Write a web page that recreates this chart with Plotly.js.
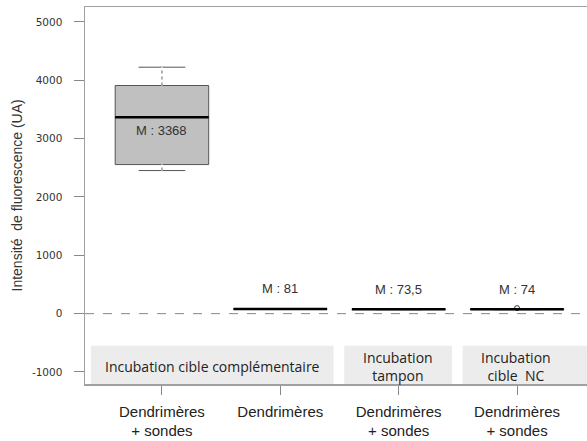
<!DOCTYPE html>
<html><head><meta charset="utf-8">
<script src="https://cdn.plot.ly/plotly-3.0.1.min.js"></script>
<style>html,body{margin:0;padding:0;overflow:hidden;background:#fff;width:587px;height:441px}</style>
</head><body><div id="chart"></div>
<script>
// ---- data ----
const categories = ['Dendrimères<br>+ sondes', 'Dendrimères', 'Dendrimères<br>+ sondes', 'Dendrimères<br>+ sondes'];
const positions = [0, 1, 2, 3];
const medians = [3368, 81, 73.5, 74];
const q1 = [2556, 77, 70, 70];
const q3 = [3911, 85, 77, 78];
const lowerWhisker = [2453, 74, 67, 67];
const upperWhisker = [4225, 88, 80, 80];
const medianLabels = ['M : 3368', 'M : 81', 'M : 73,5', 'M : 74'];
const outlierX = [3];
const outlierY = [95];
const groupLabels = ['Incubation cible complémentaire', 'Incubation<br>tampon', 'Incubation<br>cible  NC'];
const groupFrom = [0, 2, 3];
const groupTo = [1, 2, 3];
const yTicks = [-1000, 0, 1000, 2000, 3000, 4000, 5000];
const yTickText = ['-1000', '0', '1000', '2000', '3000', '4000', '5000'];
const yTitle = 'Intensité  de fluorescence (UA)';

// ---- styling ----
const boxW = 0.79;
const font = 'Liberation Sans, Arial, sans-serif';

const traces = [{
  type: 'box',
  x: positions,
  q1: q1, median: medians, q3: q3,
  lowerfence: lowerWhisker, upperfence: upperWhisker,
  width: boxW,
  whiskerwidth: 0.5,
  fillcolor: '#c0c0c0',
  line: {color: '#555555', width: 1},
  boxpoints: false,
  hoverinfo: 'skip',
  showlegend: false
}, {
  type: 'scatter', mode: 'markers',
  x: outlierX, y: outlierY,
  marker: {symbol: 'circle-open', size: 5, color: '#333', line: {width: 1}},
  showlegend: false, hoverinfo: 'skip'
}];

const shapes = [];
for (let i = 0; i < groupLabels.length; i++) {
  const left = groupFrom[i] - (i === 0 ? 0.6 : 0.46);
  const right = groupTo[i] + (i === groupLabels.length - 1 ? 1 : 0.45);
  shapes.push({type: 'rect', xref: 'x', yref: 'y', x0: left, x1: right, y0: -549, y1: -1400,
    fillcolor: '#ececec', line: {width: 0}, layer: 'below'});
}
shapes.push({type: 'line', xref: 'paper', yref: 'y', x0: 0, x1: 1, y0: 0, y1: 0,
  line: {color: '#888', width: 1, dash: 'dash'}, layer: 'below'});
for (let i = 0; i < positions.length; i++) {
  const x = positions[i];
  if (upperWhisker[i] - q3[i] > 50) {
    [[q3[i], upperWhisker[i]], [lowerWhisker[i], q1[i]]].forEach(function (seg) {
      shapes.push({type: 'line', x0: x, x1: x, y0: seg[0], y1: seg[1], line: {color: '#fff', width: 2}});
      shapes.push({type: 'line', x0: x, x1: x, y0: seg[0], y1: seg[1], line: {color: '#666', width: 1, dash: 'dot'}});
    });
  }
  shapes.push({type: 'line', x0: x - boxW / 2, x1: x + boxW / 2, y0: medians[i], y1: medians[i],
    line: {color: '#000', width: 2.5}});
}

const annotations = [];
for (let i = 0; i < positions.length; i++) {
  const big = (q3[i] - q1[i]) > 200;
  annotations.push({x: positions[i], y: medians[i], text: medianLabels[i], showarrow: false,
    yshift: big ? -13 : 20, font: {family: font, size: 13, color: '#333'}});
}
for (let i = 0; i < groupLabels.length; i++) {
  const left = groupFrom[i] - (i === 0 ? 0.6 : 0.46);
  const right = groupTo[i] + 0.45;
  annotations.push({x: (left + right) / 2, y: -900, text: groupLabels[i], showarrow: false,
    font: {family: 'Open Sans, sans-serif', size: 14, color: '#222'}});
}
annotations.push({xref: 'paper', yref: 'paper', x: 0, y: 0.5, xshift: -69, xanchor: 'center', yanchor: 'middle',
  text: yTitle, textangle: -90, showarrow: false, font: {family: font, size: 14, color: '#333'}});

const layout = {
  width: 594, height: 441,
  margin: {l: 85, r: 0, t: 7, b: 57},
  paper_bgcolor: '#fff', plot_bgcolor: '#fff',
  font: {family: font},
  xaxis: {
    range: [-0.65, 3.65],
    tickvals: positions, ticktext: categories,
    showgrid: false, zeroline: false,
    showline: true, mirror: true, linecolor: '#a0a0a0', linewidth: 1.5,
    ticks: 'outside', ticklen: 9, tickcolor: '#888',
    ticklabelstandoff: 4,
    tickfont: {family: font, size: 15, color: '#222'}
  },
  yaxis: {
    range: [-1206, 5257],
    tickvals: yTicks, ticktext: yTickText,
    showgrid: false, zeroline: false,
    showline: true, mirror: true, linecolor: '#a0a0a0', linewidth: 1.5,
    ticks: 'outside', ticklen: 10, tickcolor: '#888',
    ticklabelstandoff: 9,
    tickfont: {family: 'DejaVu Sans, sans-serif', size: 10.5, color: '#333'}
  },
  shapes: shapes,
  annotations: annotations
};

Plotly.newPlot('chart', traces, layout, {staticPlot: true, displayModeBar: false});
</script>
</body></html>
